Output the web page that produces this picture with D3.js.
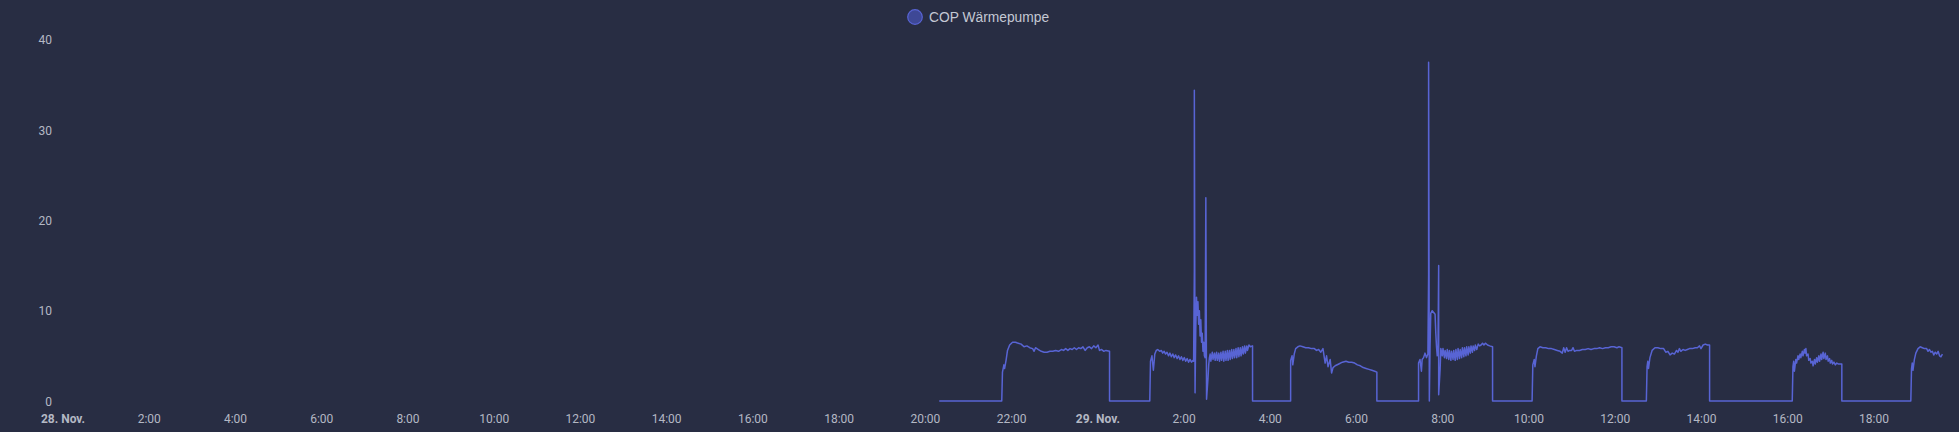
<!DOCTYPE html>
<html>
<head>
<meta charset="utf-8">
<script src="https://cdn.jsdelivr.net/npm/d3@7"></script>
<style>
  html, body { margin: 0; padding: 0; background: #282d43; }
  svg { display: block; }
</style>
</head>
<body>
<svg id="chart" width="1959" height="432"></svg>
<script>
// ---- data ----
const seriesName = "COP Wärmepumpe";
const startDay = new Date(2024, 10, 28, 0, 0); // 28. Nov. 00:00
const endMinute = 2620;                          // right edge of the time axis (minutes after start)
const yTicks = [0, 10, 20, 30, 40];
const xTickHours = [0, 2, 4, 6, 8, 10, 12, 14, 16, 18, 20, 22, 24, 26, 28, 30, 32, 34, 36, 38, 40, 42];
const xTickLabels = ["28. Nov.", "2:00", "4:00", "6:00", "8:00", "10:00", "12:00", "14:00", "16:00", "18:00", "20:00", "22:00",
                     "29. Nov.", "2:00", "4:00", "6:00", "8:00", "10:00", "12:00", "14:00", "16:00", "18:00"];
const boldLabels = ["28. Nov.", "29. Nov."];

// [minutes after 28. Nov. 00:00, COP]
const copPoints = [
  [1220,0],[1307,0],[1308,3.2],[1310,4.0],[1311,3.6],[1313,4.5],[1315,5.6],[1318,6.2],[1322,6.5],[1326,6.5],[1330,6.4],
  [1334,6.3],[1338,6.0],[1342,6.1],[1346,5.9],[1350,5.8],[1352,5.5],[1354,5.9],[1358,5.7],[1362,5.5],[1366,5.4],[1370,5.4],
  [1374,5.5],[1378,5.5],[1382,5.6],[1386,5.5],[1390,5.7],[1393,5.6],[1396,5.8],[1399,5.6],[1402,5.8],[1405,5.7],[1408,5.9],
  [1411,5.7],[1414,5.9],[1417,5.8],[1420,6.0],[1423,5.6],[1426,5.9],[1429,6.0],[1432,5.8],[1435,6.1],[1438,5.9],[1441,6.2],
  [1443,5.6],[1446,5.7],[1449,5.5],[1452,5.6],[1457,5.5],[1457,0],
  [1513,0],[1514,4.4],[1516,5.0],[1518,3.4],[1520,5.2],[1522,5.6],[1524,5.7],[1527,5.5],[1529,5.6],[1531,5.3],[1533,5.5],
  [1535,5.2],[1537,5.4],[1539,5.0],[1541,5.3],[1543,4.9],[1545,5.2],[1547,4.8],[1549,5.1],[1551,4.7],[1553,5.0],[1555,4.6],
  [1557,4.9],[1559,4.5],[1561,4.8],[1563,4.4],[1565,4.7],[1567,4.3],[1569,4.6],[1571,4.3],[1573,4.5],[1574,4.4],[1575,14.5],
  [1575.5,34.4],[1576,0.9],[1577,8],[1578,11.5],[1579,9.5],[1580,11],[1581,8.5],[1582,10],[1583,7.2],[1584,9],[1585,6.5],
  [1586,7.5],[1587,5.5],[1588,6.5],[1589,5.0],[1590,4.8],[1591.5,22.5],[1592.5,0.2],[1594,2.5],[1595,4.0],[1596,4.8],
  [1597,5.2],[1598,4.4],[1600,5.4],[1601,4.6],[1603,5.3],[1604,4.5],[1606,5.4],[1607,4.5],[1609,5.3],[1610,4.4],[1612,5.4],
  [1613,4.5],[1615,5.5],[1616,4.4],[1618,5.5],[1619,4.5],[1621,5.6],[1622,4.5],[1624,5.6],[1625,4.6],[1627,5.7],[1628,4.7],
  [1630,5.7],[1631,4.8],[1633,5.8],[1634,4.8],[1636,5.9],[1637,4.9],[1639,5.9],[1640,5.0],[1642,6.0],[1643,5.2],[1645,6.1],
  [1646,5.3],[1648,6.1],[1649,5.6],[1651,6.2],[1653,6.0],[1656,6.1],[1656,0],
  [1709,0],[1709,4.5],[1711,5.0],[1712,4.0],[1714,5.2],[1716,5.8],[1719,6.0],[1722,6.1],[1726,6.0],[1730,5.9],[1734,5.9],
  [1738,5.8],[1742,5.8],[1745,5.6],[1748,5.7],[1751,5.4],[1754,5.8],[1757,4.2],[1759,5.0],[1761,3.8],[1764,4.6],[1766,3.1],
  [1768,3.7],[1771,3.9],[1776,4.1],[1781,4.3],[1786,4.4],[1790,4.3],[1794,4.3],[1798,4.2],[1802,4.0],[1806,3.9],[1810,3.7],
  [1814,3.6],[1818,3.5],[1822,3.4],[1826,3.3],[1829,3.2],[1829,0],
  [1887,0],[1887,4.2],[1889,4.6],[1891,3.3],[1892,4.6],[1894,4.8],[1896,5.3],[1898,4.8],[1900,5.2],[1901,14],[1901.5,37.5],
  [1902.5,0],[1903.5,6],[1904.5,9.7],[1906,10],[1908,9.8],[1910,9.6],[1911,7.5],[1912,6.0],[1913,5.0],[1914,5.2],[1915,15],
  [1915.8,0.7],[1917,3.5],[1918,5.8],[1920,5.0],[1921,5.8],[1923,4.8],[1924,5.6],[1926,4.7],[1927,5.7],[1929,4.6],[1930,5.6],
  [1932,4.5],[1933,5.5],[1935,4.6],[1936,5.6],[1938,4.5],[1939,5.7],[1941,4.6],[1942,5.8],[1944,4.7],[1945,5.7],[1947,4.8],
  [1948,5.9],[1950,4.9],[1951,5.9],[1953,5.0],[1954,6.0],[1956,5.1],[1957,6.0],[1959,5.3],[1960,6.1],[1962,5.4],[1963,6.1],
  [1965,5.6],[1966,6.2],[1968,5.7],[1970,6.3],[1972,6.1],[1974,6.2],[1976,6.4],[1978,6.2],[1980,6.4],[1983,6.2],[1986,6.1],
  [1990,6.0],[1990,0],
  [2045,0],[2046,4.0],[2048,4.6],[2049,3.8],[2051,5.0],[2053,5.8],[2056,6.0],[2060,5.9],[2064,5.9],[2068,5.8],[2072,5.8],
  [2076,5.7],[2080,5.6],[2084,5.5],[2087,5.3],[2089,5.9],[2091,5.4],[2093,5.9],[2095,5.5],[2097,5.6],[2100,5.6],[2102,5.9],
  [2104,5.5],[2107,5.6],[2111,5.6],[2115,5.7],[2119,5.7],[2123,5.8],[2127,5.7],[2131,5.8],[2135,5.8],[2139,5.9],[2143,5.8],
  [2147,5.9],[2151,5.9],[2155,6.0],[2159,6.0],[2163,5.9],[2166,6.0],[2170,5.9],[2170,0],
  [2204,0],[2205,3.8],[2206,4.4],[2207,3.6],[2209,4.8],[2212,5.6],[2216,5.9],[2220,5.9],[2224,5.8],[2228,5.8],[2231,5.4],
  [2234,5.5],[2237,5.1],[2240,5.3],[2243,5.2],[2246,5.6],[2248,5.4],[2250,5.8],[2252,5.5],[2255,5.7],[2258,5.6],[2261,5.7],
  [2264,5.8],[2268,5.8],[2272,5.9],[2275,5.9],[2278,6.1],[2280,5.8],[2283,6.2],[2286,6.3],[2289,6.2],[2292,6.2],[2292,0],
  [2407,0],[2408,3.8],[2409,4.4],[2410,3.3],[2412,4.6],[2413,4.2],[2415,5.0],[2416,4.6],[2418,5.2],[2419,4.8],[2421,5.5],
  [2422,5.0],[2424,5.7],[2425,5.3],[2426,5.8],[2427,5.0],[2429,5.2],[2430,4.5],[2432,4.7],[2433,4.2],[2435,4.4],[2436,3.9],
  [2438,4.6],[2439,4.1],[2441,4.8],[2442,4.3],[2444,5.0],[2445,4.4],[2447,5.2],[2448,4.6],[2450,5.4],[2451,4.7],[2453,5.3],
  [2454,4.6],[2456,5.0],[2457,4.4],[2459,4.7],[2460,4.2],[2462,4.5],[2463,4.1],[2465,4.3],[2467,4.0],[2469,4.2],[2471,4.1],
  [2473,4.1],[2476,4.1],[2476,0],
  [2572,0],[2573,3.6],[2574,4.2],[2575,3.4],[2577,4.6],[2579,5.3],[2582,5.8],[2585,6.0],[2588,5.9],[2591,5.8],[2594,5.8],
  [2596,5.5],[2598,5.7],[2600,5.4],[2602,5.5],[2604,5.1],[2606,5.4],[2608,5.2],[2610,5.5],[2612,5.0],[2614,4.9],[2616,5.2]
];

// ---- drawing ----
const svg = d3.select("#chart");
const W = 1959, H = 432;
const plot = { left: 62.5, right: 1945.3, top: 39.7, bottom: 401 };

const toDate = m => d3.timeMinute.offset(startDay, m);
const x = d3.scaleTime()
  .domain([startDay, toDate(endMinute)])
  .range([plot.left, plot.right]);
const y = d3.scaleLinear()
  .domain([0, 40])
  .range([plot.bottom, plot.top]);

svg.append("rect").attr("width", W).attr("height", H).attr("fill", "#282d43");

// y axis labels
const yAxis = d3.axisLeft(y).tickValues(yTicks).tickSize(0).tickPadding(0).tickFormat(d3.format("d"));
const gy = svg.append("g").attr("transform", "translate(52,0)").call(yAxis);
gy.select(".domain").remove();
gy.selectAll("text")
  .attr("fill", "#b4b8c4")
  .attr("font-family", "Roboto, sans-serif")
  .attr("font-size", 12)
  .attr("dy", "0.35em");

// x axis labels
const xTickDates = xTickHours.map(h => d3.timeHour.offset(startDay, h));
const labelFor = new Map(xTickDates.map((d, i) => [+d, xTickLabels[i]]));
const xAxis = d3.axisBottom(x).tickValues(xTickDates).tickSize(0).tickPadding(0)
  .tickFormat(d => labelFor.get(+d));
const gx = svg.append("g").attr("transform", "translate(0,418.5)").call(xAxis);
gx.select(".domain").remove();
gx.selectAll("text")
  .attr("y", 0)
  .attr("dy", "0.35em")
  .attr("fill", "#b4b8c4")
  .attr("font-family", "Roboto, sans-serif")
  .attr("font-size", 12)
  .attr("font-weight", d => boldLabels.includes(labelFor.get(+d)) ? 700 : 400);

// line
const line = d3.line()
  .x(d => x(toDate(d[0])))
  .y(d => y(d[1]));
svg.append("path")
  .datum(copPoints)
  .attr("fill", "none")
  .attr("stroke", "#5864d4")
  .attr("stroke-width", 1.5)
  .attr("stroke-linejoin", "round")
  .attr("d", line);

// legend
const legend = svg.append("g").attr("transform", "translate(915,17)");
legend.append("circle").attr("r", 7.3).attr("fill", "#3e4896").attr("stroke", "#5864d4").attr("stroke-width", 1.2);
legend.append("text")
  .attr("x", 14).attr("dy", "0.35em")
  .attr("fill", "#c4c8d4")
  .attr("font-family", "'Liberation Sans', Arial, sans-serif")
  .attr("font-size", 13.8)
  .text(seriesName);
</script>
</body>
</html>
